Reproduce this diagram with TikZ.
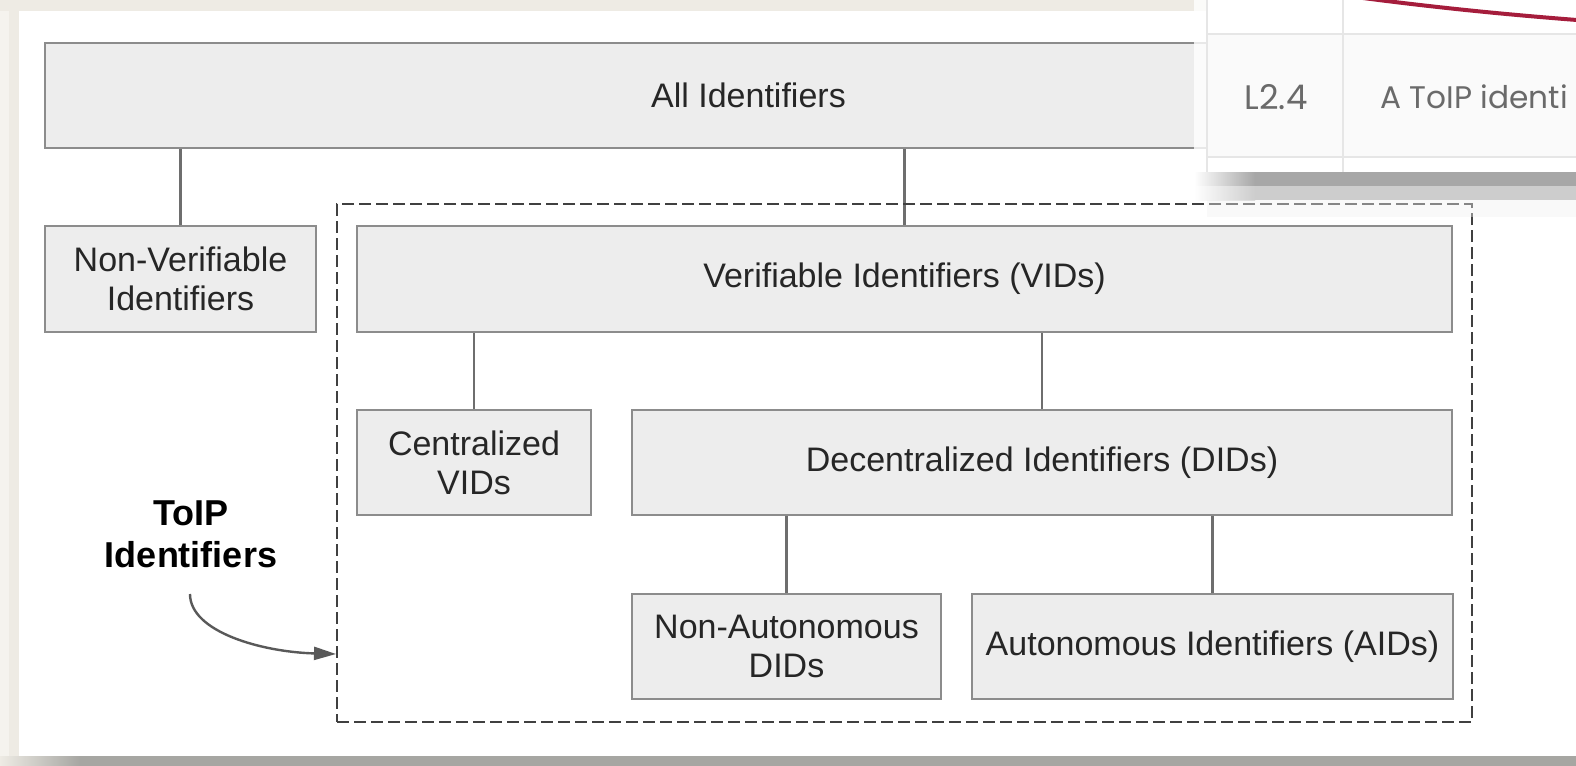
\documentclass[tikz,border=0pt]{standalone}
\usepackage{fontspec}
\setmainfont{Liberation Sans}
\newfontfamily\tabfont{Poppins}
\usetikzlibrary{arrows.meta}

\definecolor{boxfill}{HTML}{EDEDED}
\definecolor{boxline}{HTML}{8C8C8C}
\definecolor{connline}{HTML}{6E6E6E}
\definecolor{beige}{HTML}{EEEBE4}
\definecolor{beigehell}{HTML}{F5F3EE}
\definecolor{schattenA}{HTML}{A7A7A7}
\definecolor{schattenB}{HTML}{CDCDCD}
\definecolor{randgrau}{HTML}{A6A6A2}
\definecolor{tabline}{HTML}{E6E6E6}
\definecolor{tabtext}{HTML}{6A6A6A}
\definecolor{kurve}{HTML}{A51D3C}

\tikzset{
  idbox/.style={draw=boxline, line width=1pt, fill=boxfill, align=center,
    text=black!85, font=\fontsize{17}{19.6}\selectfont, inner sep=0pt},
  conn/.style={draw=connline, line width=1.3pt},
  toipbox/.style={draw=black!75, line width=1pt, dash pattern=on 6pt off 2.5pt},
  pfeil/.style={draw=black!65, line width=1.2pt, -{Triangle[length=11pt,width=6.5pt]}},
}

\begin{document}
\begin{tikzpicture}[x=0.5pt,y=-0.5pt]
  \useasboundingbox (0,0) rectangle (1576,766);
  % Hintergrund
  \fill[beige] (0,0) rectangle (1576,766);
  \fill[beigehell] (0,11) rectangle (9,766);
  \fill[white] (19,11) rectangle (1576,756);
  \shade[left color=beige, right color=randgrau] (0,756) rectangle (80,766);
  \fill[randgrau] (80,756) rectangle (1576,766);

  % die Kaesten
  \node[idbox, minimum width=703.5pt, minimum height=52.5pt] (all) at (748.5,95.5) {All Identifiers};
  \node[idbox, minimum width=135.5pt, minimum height=53pt] (nonver) at (180.5,279) {Non-Verifiable\\Identifiers};
  \node[idbox, minimum width=547.5pt, minimum height=53pt] (vid) at (904.5,279) {Verifiable Identifiers (VIDs)};
  \node[idbox, minimum width=117pt, minimum height=52.5pt] (cvid) at (474,462.5) {Centralized\\VIDs};
  \node[idbox, minimum width=410pt, minimum height=52.5pt] (did) at (1042,462.5) {Decentralized Identifiers (DIDs)};
  \node[idbox, minimum width=154.5pt, minimum height=52.5pt] (nadid) at (786.5,646.5) {Non-Autonomous\\DIDs};
  \node[idbox, minimum width=240.5pt, minimum height=52.5pt] (aid) at (1212.5,646.5) {Autonomous Identifiers (AIDs)};

  % Verbindungen
  \foreach \a/\b in {all/nonver, all/vid, vid/cvid, vid/did, did/nadid, did/aid}
    \draw[conn] (\b.north) -- (\b.north |- \a.south);

  % ToIP-Rahmen
  \node[toipbox, minimum width=567.5pt, minimum height=259pt] (toip) at (904.5,463) {};
  \node[font=\bfseries\fontsize{18}{21.1}\selectfont, align=center, inner sep=0pt] (toiplbl) at (191,534) {ToIP\\Identifiers};
  \coordinate (pfeilanfang) at (190,594);
  \draw[pfeil] (pfeilanfang) .. controls (190,632) and (262,652) .. (toip.west |- 0,654);

  % Tabelle oben rechts
  \begin{scope}
   \clip (1194,0) rectangle (1576,766);
   \fill[white, opacity=0.8] (1194,0) rectangle (1576,172);
   \fill[white] (1207,0) rectangle (1576,172);
   \fill[black!2] (1207,34) rectangle (1576,157);
   \draw[tabline, line width=0.75pt] (1207,0) -- (1207,172) (1343,0) -- (1343,172)
     (1207,34) -- (1576,34) (1207,157) -- (1576,157);
   \draw[kurve, line width=2pt] (1363,-2) .. controls (1440,8) and (1510,15) .. (1590,21);
   \node[text=tabtext, font=\tabfont\fontsize{17}{20}\selectfont] (lnr) at (1276,97) {L2.4};
   \node[text=tabtext, font=\tabfont\fontsize{15.6}{20}\selectfont, anchor=west, inner sep=0pt] (ltext) at (1380,97) {A ToIP identi};
   % Schatten
   \shade[left color=white, right color=schattenA] (1194,172) rectangle (1255,186);
   \fill[schattenA] (1255,172) rectangle (1576,186);
   \shade[left color=white, right color=schattenB] (1194,186) rectangle (1255,200);
   \fill[schattenB] (1255,186) rectangle (1576,200);
   \fill[black!6, opacity=0.4] (1207,200) rectangle (1576,217);
  \end{scope}
\end{tikzpicture}
\end{document}
